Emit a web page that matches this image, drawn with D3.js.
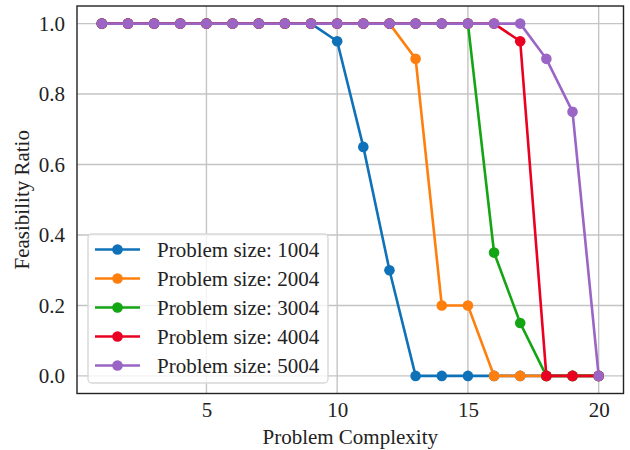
<!DOCTYPE html>
<html>
<head>
<meta charset="utf-8">
<script src="https://cdn.jsdelivr.net/npm/d3@7"></script>
<style>
  body { margin: 0; background: #fff; }
  svg { font-family: "Liberation Serif", "Times New Roman", serif; }
</style>
</head>
<body>
<svg width="630" height="450"></svg>
<script>
// chart data
var complexity = d3.range(1, 21);
var sizeLabels = ["Problem size: 1004", "Problem size: 2004", "Problem size: 3004", "Problem size: 4004", "Problem size: 5004"];
var colors = ["#0f72b8", "#ff7f0e", "#13a513", "#ea0020", "#9a65c4"];
var size1004 = [1,1,1,1,1,1,1,1,1,0.95,0.65,0.3,0,0,0,0,0,0,0,0];
var size2004 = [1,1,1,1,1,1,1,1,1,1,1,1,0.9,0.2,0.2,0,0,0,0,0];
var size3004 = [1,1,1,1,1,1,1,1,1,1,1,1,1,1,1,0.35,0.15,0,0,0];
var size4004 = [1,1,1,1,1,1,1,1,1,1,1,1,1,1,1,1,0.95,0,0,0];
var size5004 = [1,1,1,1,1,1,1,1,1,1,1,1,1,1,1,1,1,0.9,0.75,0];
var xTicks = [5, 10, 15, 20];
var yTicks = [0, 0.2, 0.4, 0.6, 0.8, 1.0];

var series = [size1004, size2004, size3004, size4004, size5004];

var svg = d3.select("svg");
var pLeft = 77, pRight = 623.5, pTop = 6, pBottom = 393.5;

var x = d3.scaleLinear().domain([0.05, 20.95]).range([pLeft, pRight]);
var y = d3.scaleLinear().domain([-0.05, 1.05]).range([pBottom, pTop]);

// grid
svg.append("g").selectAll("line").data(xTicks).enter().append("line")
  .attr("x1", function(d){ return x(d); }).attr("x2", function(d){ return x(d); })
  .attr("y1", pTop).attr("y2", pBottom)
  .attr("stroke", "#c4c4c4").attr("stroke-width", 1.4);
svg.append("g").selectAll("line").data(yTicks).enter().append("line")
  .attr("y1", function(d){ return y(d); }).attr("y2", function(d){ return y(d); })
  .attr("x1", pLeft).attr("x2", pRight)
  .attr("stroke", "#c4c4c4").attr("stroke-width", 1.4);

// axes (labels only, no tick marks)
var xAxis = svg.append("g").attr("transform", "translate(0," + pBottom + ")")
  .call(d3.axisBottom(x).tickValues(xTicks).tickSize(0).tickPadding(9).tickFormat(d3.format("d")));
var yAxis = svg.append("g").attr("transform", "translate(" + pLeft + ",0)")
  .call(d3.axisLeft(y).tickValues(yTicks).tickSize(0).tickPadding(12).tickFormat(d3.format(".1f")));
[xAxis, yAxis].forEach(function(a){
  a.select(".domain").remove();
  a.selectAll("text").attr("font-family", "Liberation Serif").attr("font-size", 21).attr("fill", "#222");
});

// lines + markers
var line = d3.line()
  .x(function(d, i){ return x(complexity[i]); })
  .y(function(d){ return y(d); });

series.forEach(function(vals, k){
  var g = svg.append("g");
  g.append("path").datum(vals)
    .attr("d", line)
    .attr("fill", "none")
    .attr("stroke", colors[k])
    .attr("stroke-width", 2.6);
  g.selectAll("circle").data(vals).enter().append("circle")
    .attr("cx", function(d, i){ return x(complexity[i]); })
    .attr("cy", function(d){ return y(d); })
    .attr("r", 5.3)
    .attr("fill", colors[k]);
});

// frame
svg.append("rect")
  .attr("x", pLeft).attr("y", pTop)
  .attr("width", pRight - pLeft).attr("height", pBottom - pTop)
  .attr("fill", "none").attr("stroke", "#222").attr("stroke-width", 1.4);

// legend
var lg = svg.append("g").attr("transform", "translate(88,234)");
lg.append("rect")
  .attr("width", 240).attr("height", 149).attr("rx", 4)
  .attr("fill", "white").attr("fill-opacity", 0.8)
  .attr("stroke", "#d8d8d8").attr("stroke-width", 1.4);
sizeLabels.forEach(function(lab, k){
  var row = lg.append("g").attr("transform", "translate(0," + (15.5 + k * 29) + ")");
  row.append("line").attr("x1", 7).attr("x2", 52)
    .attr("stroke", colors[k]).attr("stroke-width", 2.6);
  row.append("circle").attr("cx", 29.5).attr("r", 5.3).attr("fill", colors[k]);
  row.append("text").attr("x", 69).attr("dy", "0.35em")
    .attr("font-size", 21).attr("fill", "#222").text(lab);
});

// axis titles
svg.append("text")
  .attr("x", (pLeft + pRight) / 2).attr("y", 444)
  .attr("text-anchor", "middle").attr("font-size", 21).attr("fill", "#222")
  .text("Problem Complexity");
svg.append("text")
  .attr("transform", "translate(29," + ((pTop + pBottom) / 2) + ") rotate(-90)")
  .attr("text-anchor", "middle").attr("font-size", 21).attr("fill", "#222")
  .text("Feasibility Ratio");
</script>
</body>
</html>
